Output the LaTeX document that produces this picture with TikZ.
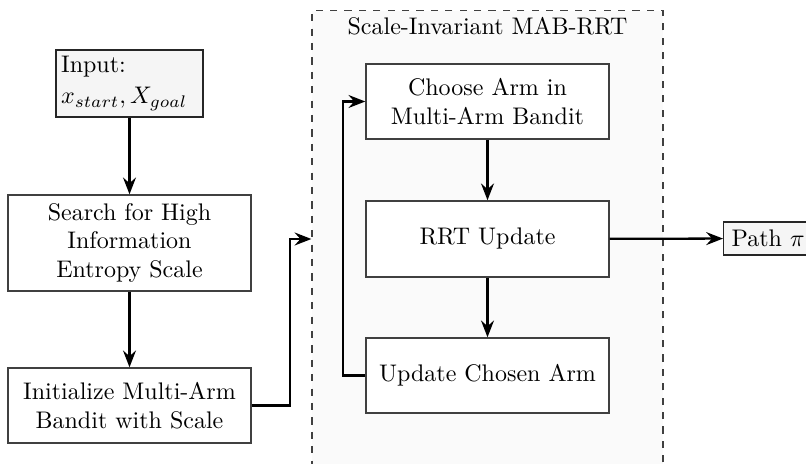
\documentclass[tikz,border=0pt]{standalone}
\usetikzlibrary{arrows.meta,calc}
\begin{document}
\begin{tikzpicture}[x=0.416667pt, y=-0.416667pt,
  box/.style={draw=black!75, line width=0.6pt, fill=white, minimum width=101.25pt, text width=93pt, align=center, inner sep=2pt, minimum height=31.25pt},
  iobox/.style={draw=black!85, line width=0.6pt, fill=black!4},
  arr/.style={-{Stealth[length=7pt,width=5.4pt,inset=2.4pt]}, line width=0.95pt},
  mabbox/.style={draw=black!75, dashed, line width=0.5pt, fill=black!2, minimum width=146.25pt, minimum height=210pt, anchor=north, inner sep=0pt}
]
\clip (0,0) rectangle (806,464);
\path[use as bounding box] (0,0) rectangle (806,464);
% dashed container
\node[mabbox] (mab) at (487.5,10) {};
\node (title) at (487.5,26) {Scale-Invariant MAB-RRT};
% left column
\node[iobox, text width=57pt, align=left, inner sep=2pt, minimum width=61.25pt, minimum height=27.9pt] (input) at (129.5,83.5) {Input:\\[1pt] $x_{start}, X_{goal}$};
\node[box, minimum height=40pt] (search) at (129.5,243) {Search for High Information Entropy Scale};
\node[box] (init) at (129.5,405.5) {Initialize Multi-Arm Bandit with Scale};
% right column
\node[box] (choose) at (487.5,101.5) {Choose Arm in Multi-Arm Bandit};
\node[box, minimum height=31.7pt] (rrt) at (487.5,239) {RRT Update};
\node[box] (update) at (487.5,375.5) {Update Chosen Arm};
\node[iobox, anchor=west] (path) at (723,238.5) {Path $\pi$};
% connectors
\draw[arr] (input) -- (search);
\draw[arr] (search) -- (init);
\draw[arr] (choose) -- (rrt);
\draw[arr] (rrt) -- (update);
\draw[arr] (rrt) -- (path);
\coordinate (j1) at (290,239);
\draw[arr] (init.east) -| (j1) -- (mab.west |- j1);
\coordinate (j2) at (343,101.5);
\draw[arr] (update.west) -| (j2) -- (choose.west);
\end{tikzpicture}
\end{document}
